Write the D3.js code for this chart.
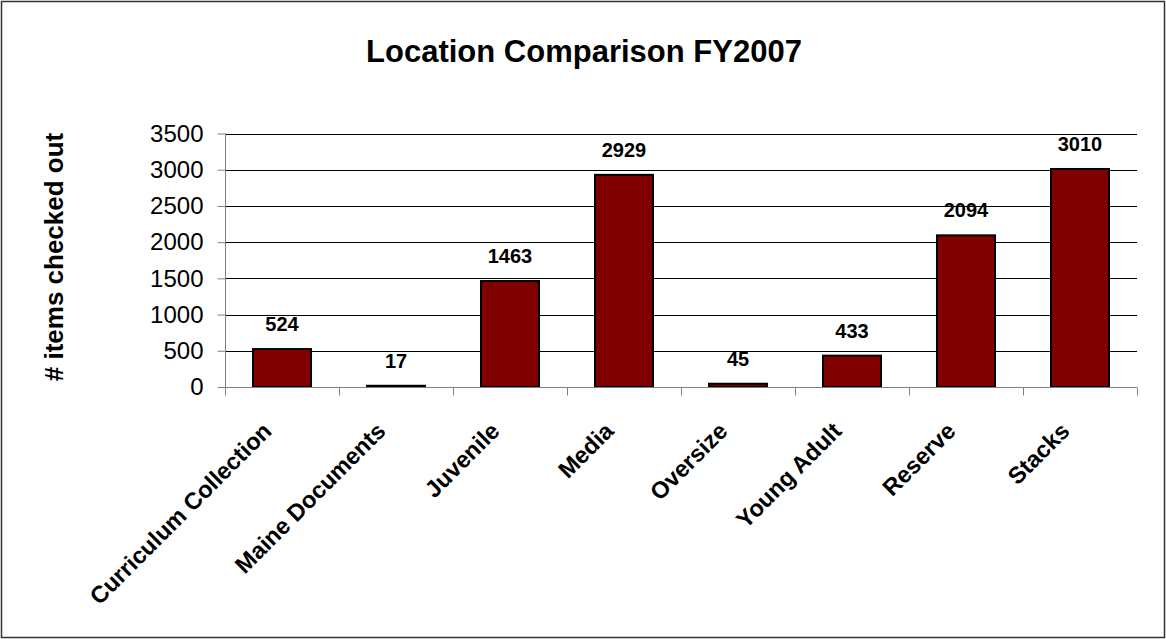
<!DOCTYPE html>
<html>
<head>
<meta charset="utf-8">
<script src="https://cdn.jsdelivr.net/npm/d3@7"></script>
<style>
body { margin: 0; background: #fff; }
text { font-family: Arial, "Liberation Sans", sans-serif; }
</style>
</head>
<body>
<svg width="1166" height="639"></svg>
<script>
var categories = ['Curriculum Collection', 'Maine Documents', 'Juvenile', 'Media', 'Oversize', 'Young Adult', 'Reserve', 'Stacks'];
var values = [524, 17, 1463, 2929, 45, 433, 2094, 3010];
var yTicks = [0, 500, 1000, 1500, 2000, 2500, 3000, 3500];

var svg = d3.select('svg');
var width = +svg.attr('width');
var height = +svg.attr('height');

var plotLeft = 225, plotRight = 1137, plotTop = 133.5, plotBottom = 387;

svg.append('rect')
    .attr('x', 1.5).attr('y', 1.5)
    .attr('width', width - 3).attr('height', height - 3)
    .attr('fill', '#fff')
    .attr('stroke', '#333')
    .attr('stroke-width', 1.5);

var x = d3.scaleBand().domain(categories).range([plotLeft, plotRight]).padding(0);
var y = d3.scaleLinear().domain([0, 3500]).range([plotBottom, plotTop]);

// gridlines
svg.append('g')
    .selectAll('line')
    .data(yTicks.slice(1))
    .enter()
    .append('line')
    .attr('x1', plotLeft).attr('x2', plotRight)
    .attr('y1', function(d) { return Math.round(y(d)) + 0.5; })
    .attr('y2', function(d) { return Math.round(y(d)) + 0.5; })
    .attr('stroke', '#000')
    .attr('stroke-width', 1);

// bars
var barW = 58;
svg.append('g')
    .selectAll('rect')
    .data(values)
    .enter()
    .append('rect')
    .attr('x', function(d, i) { return x(categories[i]) + (x.bandwidth() - barW) / 2; })
    .attr('y', function(d) { return y(d); })
    .attr('width', barW)
    .attr('height', function(d) { return y(0) - y(d); })
    .attr('fill', '#800000')
    .attr('stroke', '#000')
    .attr('stroke-width', 2);

// y axis
var yAxis = d3.axisLeft(y).tickValues(yTicks).tickFormat(d3.format('d')).tickSize(8).tickPadding(14);
var yg = svg.append('g')
    .attr('transform', 'translate(' + (plotLeft + 0.5) + ',0)')
    .call(yAxis);
yg.select('.domain').attr('stroke', '#808080').attr('d', 'M0,' + plotTop + 'V' + plotBottom);
yg.selectAll('.tick line').attr('stroke', '#808080');
yg.selectAll('.tick text')
    .attr('font-size', 24)
    .attr('fill', '#000')
    .attr('font-family', 'Arial, "Liberation Sans", sans-serif');

// x axis
var xg = svg.append('g')
    .attr('transform', 'translate(0,' + (Math.round(plotBottom) + 0.5) + ')');
xg.append('line')
    .attr('x1', plotLeft).attr('x2', plotRight)
    .attr('stroke', '#808080');
xg.selectAll('.xtick')
    .data(d3.range(categories.length + 1))
    .enter()
    .append('line')
    .attr('x1', function(i) { return Math.round(plotLeft + i * x.step()) + 0.5; })
    .attr('x2', function(i) { return Math.round(plotLeft + i * x.step()) + 0.5; })
    .attr('y1', 0).attr('y2', 8)
    .attr('stroke', '#808080');

xg.selectAll('.xlabel')
    .data(categories)
    .enter()
    .append('text')
    .attr('transform', function(d) {
        return 'translate(' + (x(d) + x.bandwidth() / 2 - 9) + ',' + 45 + ') rotate(-45)';
    })
    .attr('text-anchor', 'end')
    .attr('font-size', 23.5)
    .attr('font-weight', 'bold')
    .text(function(d) { return d; });

// value labels
svg.append('g')
    .selectAll('text')
    .data(values)
    .enter()
    .append('text')
    .attr('x', function(d, i) { return x(categories[i]) + x.bandwidth() / 2; })
    .attr('y', function(d) { return y(d) - 18; })
    .attr('text-anchor', 'middle')
    .attr('font-size', 20)
    .attr('font-weight', 'bold')
    .text(function(d) { return d; });

// title
svg.append('text')
    .attr('x', 584).attr('y', 62)
    .attr('text-anchor', 'middle')
    .attr('font-size', 31)
    .attr('font-weight', 'bold')
    .text('Location Comparison FY2007');

// y label
svg.append('text')
    .attr('transform', 'translate(63,257) rotate(-90)')
    .attr('text-anchor', 'middle')
    .attr('font-size', 26)
    .attr('font-weight', 'bold')
    .text('# items checked out');
</script>
</body>
</html>
